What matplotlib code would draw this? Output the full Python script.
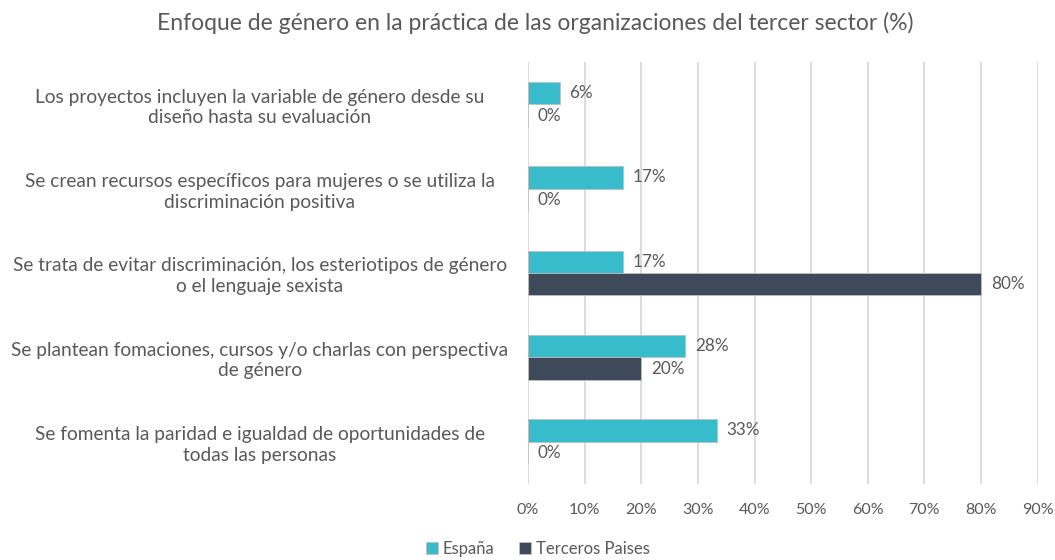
import matplotlib.pyplot as plt
import numpy as np

plt.rcParams["font.family"] = ["Lato", "DejaVu Sans"]

categorias = [
    "Los proyectos incluyen la variable de género desde su\ndiseño hasta su evaluación",
    "Se crean recursos específicos para mujeres o se utiliza la\ndiscriminación positiva",
    "Se trata de evitar discriminación, los esteriotipos de género\no el lenguaje sexista",
    "Se plantean fomaciones, cursos y/o charlas con perspectiva\nde género",
    "Se fomenta la paridad e igualdad de oportunidades de\ntodas las personas",
]
espana = [5.6, 16.7, 16.7, 27.8, 33.3]
terceros = [0, 0, 80, 20, 0]
xticks = [0, 10, 20, 30, 40, 50, 60, 70, 80, 90]

c_esp = "#36BCCB"
c_ter = "#3E4A5A"
gris = "#595959"

fig = plt.figure(figsize=(10.55, 5.6), dpi=100)
ax = fig.add_axes([0.5005, 0.136, 0.483, 0.753])

y = np.arange(len(categorias))
h = 0.265
b1 = ax.barh(y - h / 2, espana, height=h, color=c_esp, edgecolor="#bfbfbf",
             linewidth=0.6, label="España", zorder=3)
b2 = ax.barh(y + h / 2, terceros, height=h, color=c_ter, edgecolor="#bfbfbf",
             linewidth=0.6, label="Terceros Paises", zorder=3)

for bars, vals in ((b1, espana), (b2, terceros)):
    for rect, v in zip(bars, vals):
        ax.annotate(f"{round(v):d}%", (v, rect.get_y() + rect.get_height() / 2),
                    xytext=(7, 0), textcoords="offset points", va="center",
                    ha="left", fontsize=12.3, color=gris)

ax.set_xlim(0, 90)
ax.set_ylim(len(categorias) - 0.5, -0.5)
ax.set_xticks(xticks)
ax.set_xticklabels([f"{t}%" for t in xticks], fontsize=11.5, color=gris)
ax.set_yticks(y)
ax.set_yticklabels(categorias, fontsize=13.8, color=gris, ha="center",
                   linespacing=1.25)
ax.tick_params(axis="y", length=0, pad=193)
ax.tick_params(axis="x", length=0, pad=14)
ax.grid(axis="x", color="#d9d9d9", linewidth=1.3, zorder=0)
for s in ax.spines.values():
    s.set_visible(False)

fig.suptitle("Enfoque de género en la práctica de las organizaciones del tercer sector (%)",
             x=0.507, y=0.978, fontsize=16.5, color=gris)
fig.legend(loc="center", bbox_to_anchor=(0.51, 0.02), ncol=2, frameon=False,
           fontsize=12, labelcolor=gris, handlelength=0.7, handleheight=0.7,
           handletextpad=0.3, columnspacing=1.5)

fig.savefig("out.png", dpi=100)
